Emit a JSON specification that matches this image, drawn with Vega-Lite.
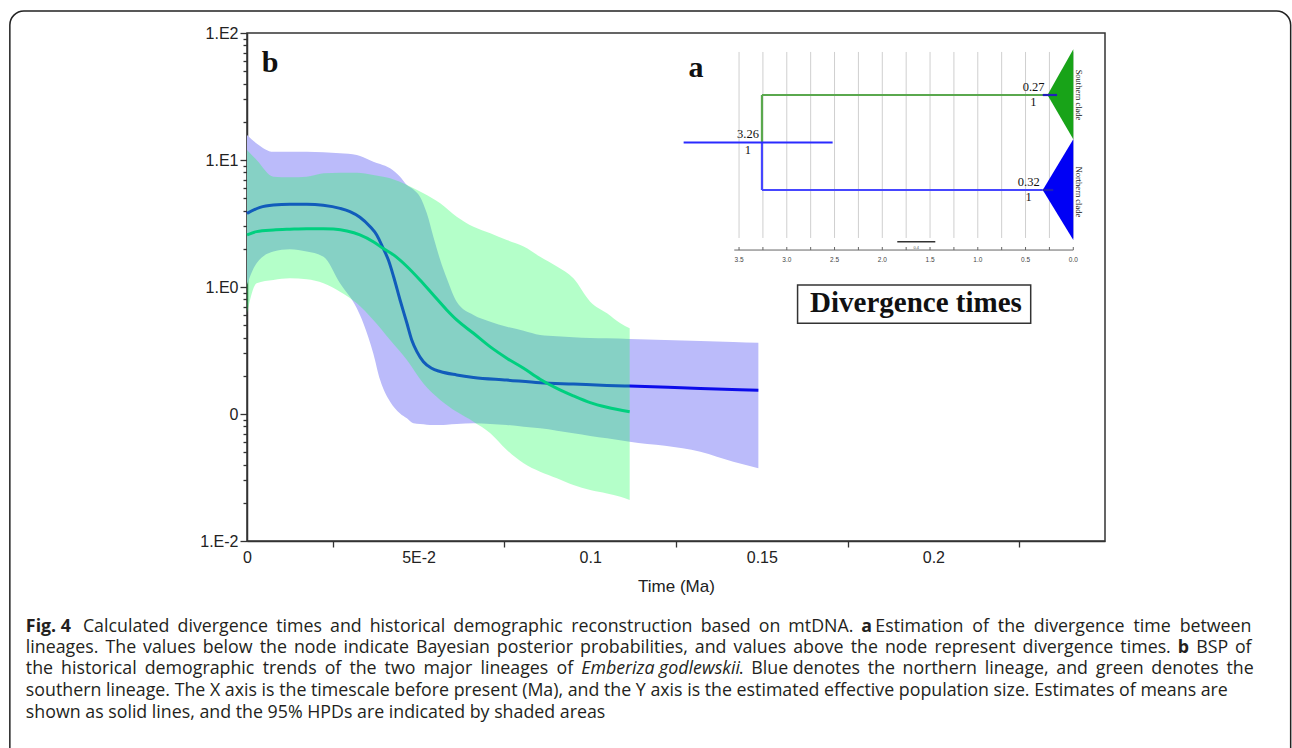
{
  "$schema": "https://vega.github.io/schema/vega-lite/v6.json",
  "width": 858,
  "height": 508,
  "autosize": {"type": "none"},
  "padding": {"left": 247, "top": 33, "right": 187, "bottom": 207},
  "background": "white",
  "config": {
    "view": {"stroke": "#333333", "strokeWidth": 1.5},
    "axis": {"grid": false, "domainColor": "#333333", "domainWidth": 1.5, "tickColor": "#333333", "tickWidth": 1.3, "labelFont": "Liberation Sans", "labelFontSize": 16, "labelColor": "#222222", "titleFont": "Liberation Sans", "titleFontSize": 17, "titleFontWeight": "normal", "titleColor": "#222222", "labelFlush": false},
    "text": {"font": "Open Sans", "fontSize": 17.8, "align": "left", "baseline": "middle", "color": "#231f20"}
  },
  "datasets": {
    "north_hpd": [
      {"t": 0, "lower": 1.04, "upper": 15.7},
      {"t": 0.0028, "lower": 1.54, "upper": 13.5},
      {"t": 0.0077, "lower": 1.9, "upper": 11.6},
      {"t": 0.0125, "lower": 1.98, "upper": 11.6},
      {"t": 0.0174, "lower": 1.9, "upper": 11.6},
      {"t": 0.0223, "lower": 1.73, "upper": 11.5},
      {"t": 0.0271, "lower": 1.07, "upper": 11.3},
      {"t": 0.032, "lower": 0.679, "upper": 10.95},
      {"t": 0.0339, "lower": 0.518, "upper": 10.5},
      {"t": 0.0368, "lower": 0.3, "upper": 9.7},
      {"t": 0.0388, "lower": 0.185, "upper": 9.3},
      {"t": 0.0417, "lower": 0.125, "upper": 8.6},
      {"t": 0.0446, "lower": 0.101, "upper": 7.39},
      {"t": 0.0466, "lower": 0.0924, "upper": 6.36},
      {"t": 0.0485, "lower": 0.0844, "upper": 5.87},
      {"t": 0.0504, "lower": 0.0834, "upper": 5.14},
      {"t": 0.0524, "lower": 0.0824, "upper": 3.8},
      {"t": 0.0543, "lower": 0.0819, "upper": 2.49},
      {"t": 0.0563, "lower": 0.0819, "upper": 1.63},
      {"t": 0.0582, "lower": 0.0824, "upper": 1.17},
      {"t": 0.0611, "lower": 0.0834, "upper": 0.766},
      {"t": 0.066, "lower": 0.0844, "upper": 0.602},
      {"t": 0.0709, "lower": 0.0834, "upper": 0.533},
      {"t": 0.0757, "lower": 0.0819, "upper": 0.487},
      {"t": 0.0806, "lower": 0.0795, "upper": 0.453},
      {"t": 0.0854, "lower": 0.0771, "upper": 0.419},
      {"t": 0.0903, "lower": 0.0739, "upper": 0.409},
      {"t": 0.0951, "lower": 0.0704, "upper": 0.402},
      {"t": 0.1, "lower": 0.0671, "upper": 0.397},
      {"t": 0.1049, "lower": 0.0643, "upper": 0.394},
      {"t": 0.1115, "lower": 0.0606, "upper": 0.39},
      {"t": 0.1321, "lower": 0.0505, "upper": 0.376},
      {"t": 0.1417, "lower": 0.0421, "upper": 0.369},
      {"t": 0.149, "lower": 0.0374, "upper": 0.364}
    ],
    "north_mean": [
      {"t": 0, "ne": 3.8},
      {"t": 0.0038, "ne": 4.24},
      {"t": 0.0077, "ne": 4.42},
      {"t": 0.0125, "ne": 4.48},
      {"t": 0.0174, "ne": 4.48},
      {"t": 0.0222, "ne": 4.4},
      {"t": 0.0271, "ne": 4.16},
      {"t": 0.03, "ne": 3.92},
      {"t": 0.0329, "ne": 3.54},
      {"t": 0.0359, "ne": 2.98},
      {"t": 0.0378, "ne": 2.57},
      {"t": 0.0397, "ne": 2.01},
      {"t": 0.0412, "ne": 1.63},
      {"t": 0.0427, "ne": 1.21},
      {"t": 0.0446, "ne": 0.79},
      {"t": 0.0466, "ne": 0.518},
      {"t": 0.048, "ne": 0.383},
      {"t": 0.0495, "ne": 0.31},
      {"t": 0.0514, "ne": 0.258},
      {"t": 0.0538, "ne": 0.229},
      {"t": 0.0563, "ne": 0.216},
      {"t": 0.0611, "ne": 0.203},
      {"t": 0.066, "ne": 0.194},
      {"t": 0.0757, "ne": 0.185},
      {"t": 0.0854, "ne": 0.176},
      {"t": 0.0951, "ne": 0.172},
      {"t": 0.1049, "ne": 0.168},
      {"t": 0.1115, "ne": 0.166},
      {"t": 0.1321, "ne": 0.159},
      {"t": 0.149, "ne": 0.154}
    ],
    "south_hpd": [
      {"t": 0, "lower": 0.621, "upper": 12.0},
      {"t": 0.0028, "lower": 1.07, "upper": 10.0},
      {"t": 0.0077, "lower": 1.135, "upper": 7.39},
      {"t": 0.0125, "lower": 1.17, "upper": 7.31},
      {"t": 0.0174, "lower": 1.15, "upper": 7.39},
      {"t": 0.0223, "lower": 1.07, "upper": 7.85},
      {"t": 0.0271, "lower": 0.919, "upper": 7.95},
      {"t": 0.032, "lower": 0.744, "upper": 7.95},
      {"t": 0.0368, "lower": 0.55, "upper": 7.62},
      {"t": 0.0417, "lower": 0.383, "upper": 7.17},
      {"t": 0.0466, "lower": 0.266, "upper": 6.36},
      {"t": 0.0514, "lower": 0.174, "upper": 5.47},
      {"t": 0.0563, "lower": 0.129, "upper": 4.56},
      {"t": 0.0611, "lower": 0.104, "upper": 3.58},
      {"t": 0.066, "lower": 0.087, "upper": 2.98},
      {"t": 0.0709, "lower": 0.0705, "upper": 2.65},
      {"t": 0.0757, "lower": 0.0521, "upper": 2.34},
      {"t": 0.0806, "lower": 0.0409, "upper": 2.08},
      {"t": 0.0854, "lower": 0.0351, "upper": 1.73},
      {"t": 0.0903, "lower": 0.0312, "upper": 1.45},
      {"t": 0.0951, "lower": 0.0276, "upper": 1.17},
      {"t": 0.1, "lower": 0.0252, "upper": 0.767},
      {"t": 0.1049, "lower": 0.0237, "upper": 0.621},
      {"t": 0.1088, "lower": 0.0223, "upper": 0.518},
      {"t": 0.1115, "lower": 0.021, "upper": 0.473}
    ],
    "south_mean": [
      {"t": 0, "ne": 2.57},
      {"t": 0.0028, "ne": 2.73},
      {"t": 0.0077, "ne": 2.81},
      {"t": 0.0125, "ne": 2.85},
      {"t": 0.0174, "ne": 2.88},
      {"t": 0.0222, "ne": 2.88},
      {"t": 0.0252, "ne": 2.86},
      {"t": 0.0291, "ne": 2.76},
      {"t": 0.0329, "ne": 2.57},
      {"t": 0.0368, "ne": 2.27},
      {"t": 0.0397, "ne": 2.01},
      {"t": 0.0427, "ne": 1.79},
      {"t": 0.0466, "ne": 1.45},
      {"t": 0.0504, "ne": 1.135},
      {"t": 0.0543, "ne": 0.865},
      {"t": 0.0582, "ne": 0.659},
      {"t": 0.0611, "ne": 0.55},
      {"t": 0.066, "ne": 0.432},
      {"t": 0.0708, "ne": 0.339},
      {"t": 0.0757, "ne": 0.275},
      {"t": 0.0806, "ne": 0.229},
      {"t": 0.0854, "ne": 0.188},
      {"t": 0.0903, "ne": 0.159},
      {"t": 0.0951, "ne": 0.139},
      {"t": 0.1, "ne": 0.123},
      {"t": 0.1049, "ne": 0.113},
      {"t": 0.1115, "ne": 0.104}
    ],
    "inset_grid": [
      {"age": 0}, {"age": 0.25}, {"age": 0.5}, {"age": 0.75}, {"age": 1.0}, {"age": 1.25}, {"age": 1.5}, {"age": 1.75},
      {"age": 2.0}, {"age": 2.25}, {"age": 2.5}, {"age": 2.75}, {"age": 3.0}, {"age": 3.25}, {"age": 3.5}
    ],
    "inset_labels": [
      {"age": 3.5, "label": "3.5"}, {"age": 3.0, "label": "3.0"}, {"age": 2.5, "label": "2.5"}, {"age": 2.0, "label": "2.0"},
      {"age": 1.5, "label": "1.5"}, {"age": 1.0, "label": "1.0"}, {"age": 0.5, "label": "0.5"}, {"age": 0.0, "label": "0.0"}
    ],
    "branches": [
      {"part": "southern", "a1": 3.26, "a2": 0.27, "r1": 1, "r2": 1},
      {"part": "southern", "a1": 3.26, "a2": 3.26, "r1": 1, "r2": 1.5},
      {"part": "northern", "a1": 3.26, "a2": 3.26, "r1": 1.5, "r2": 2},
      {"part": "northern", "a1": 3.26, "a2": 0.32, "r1": 2, "r2": 2},
      {"part": "root HPD", "a1": 4.08, "a2": 2.52, "r1": 1.5, "r2": 1.5},
      {"part": "node HPD", "a1": 0.32, "a2": 0.17, "r1": 1, "r2": 1},
      {"part": "node HPD", "a1": 0.32, "a2": 0.21, "r1": 2, "r2": 2}
    ],
    "tips": [
      {"clade": "southern tip", "age": 0.27, "top": 1.0, "bottom": 1.0},
      {"clade": "southern tip", "age": 0.0, "top": 0.519, "bottom": 1.467},
      {"clade": "northern tip", "age": 0.32, "top": 2.0, "bottom": 2.0},
      {"clade": "northern tip", "age": 0.0, "top": 1.467, "bottom": 2.526}
    ],
    "nodes": [
      {"age": 0.27, "row": 1, "height": "0.27", "post": "1"},
      {"age": 3.26, "row": 1.5, "height": "3.26", "post": "1"},
      {"age": 0.32, "row": 2, "height": "0.32", "post": "1"}
    ],
    "clades": [
      {"name": "Southern clade", "row": 1.0},
      {"name": "Northern clade", "row": 2.02}
    ]
  },
  "layer": [
    {
      "layer": [
        {
          "data": {"values": [{}]},
          "mark": {"type": "rect", "filled": false, "color": "#222222", "strokeWidth": 1.5, "cornerRadius": 14},
          "encoding": {
            "x": {"datum": -0.0691, "scale": {"domain": [0, 0.25], "nice": false, "zero": false}, "axis": null},
            "x2": {"datum": 0.3041},
            "y": {"datum": 149, "scale": {"type": "log", "domain": [0.01, 100], "nice": false}, "axis": null},
            "y2": {"datum": 0.00015}
          }
        },
        {
          "data": {"name": "north_hpd"},
          "mark": {"type": "area", "color": "#bbbbfa", "opacity": 1, "interpolate": "monotone"},
          "encoding": {
            "x": {"field": "t", "type": "quantitative", "scale": {"domain": [0, 0.25], "nice": false, "zero": false},
              "axis": {"orient": "bottom", "values": [0, 0.05, 0.1, 0.15, 0.2], "labelExpr": "datum.value == 0.05 ? '5E-2' : format(datum.value, '~g')", "ticks": false, "labelPadding": 8, "title": "Time (Ma)", "titlePadding": 13}},
            "y": {"field": "lower", "type": "quantitative", "scale": {"type": "log", "domain": [0.01, 100], "nice": false},
              "axis": {"orient": "left", "values": [0.01, 0.1, 1, 10, 100], "labelExpr": "datum.value >= 99 ? '1.E2' : datum.value >= 9 ? '1.E1' : datum.value >= 0.9 ? '1.E0' : datum.value >= 0.09 ? '0' : '1.E-2'", "tickSize": 7, "labelPadding": 2, "title": null}},
            "y2": {"field": "upper"}
          }
        },
        {
          "data": {"name": "north_mean"},
          "mark": {"type": "line", "color": "#0c0cea", "strokeWidth": 3, "interpolate": "monotone"},
          "encoding": {
            "x": {"field": "t", "type": "quantitative", "axis": null},
            "y": {"field": "ne", "type": "quantitative", "axis": null}
          }
        },
        {
          "data": {"name": "south_hpd"},
          "mark": {"type": "area", "color": "#1aff5a", "opacity": 0.33, "interpolate": "monotone"},
          "encoding": {
            "x": {"field": "t", "type": "quantitative",
              "axis": {"orient": "bottom", "values": [0.025, 0.075, 0.125, 0.175, 0.225], "labels": false, "tickSize": 6, "domain": false, "title": null}},
            "y": {"field": "lower", "type": "quantitative",
              "axis": {"orient": "left", "values": [0.02, 0.03, 0.04, 0.05, 0.06, 0.07, 0.08, 0.09, 0.2, 0.3, 0.4, 0.5, 0.6, 0.7, 0.8, 0.9, 2, 3, 4, 5, 6, 7, 8, 9, 20, 30, 40, 50, 60, 70, 80, 90], "labels": false, "tickSize": 4, "domain": false, "title": null}},
            "y2": {"field": "upper"}
          }
        },
        {
          "data": {"name": "south_mean"},
          "mark": {"type": "line", "color": "#00cf7f", "strokeWidth": 3, "interpolate": "monotone"},
          "encoding": {
            "x": {"field": "t", "type": "quantitative", "axis": null},
            "y": {"field": "ne", "type": "quantitative", "axis": null}
          }
        },
        {
          "data": {"values": [{}]},
          "mark": {"type": "text", "text": "b", "font": "Liberation Serif", "fontWeight": "bold", "fontSize": 30, "align": "center", "baseline": "alphabetic", "color": "#111111"},
          "encoding": {"x": {"datum": 0.0067, "axis": null}, "y": {"datum": 49.3, "axis": null}}
        },
        {
          "data": {"values": [{}]},
          "encoding": {"y": {"datum": 0.002122, "axis": null}},
          "layer": [
            {"mark": {"type": "text", "text": "Fig. 4", "fontWeight": "bold"}, "encoding": {"x": {"datum": -0.064431, "axis": null}}},
            {"mark": {"type": "text", "text": "Calculated"}, "encoding": {"x": {"datum": -0.047813, "axis": null}}},
            {"mark": {"type": "text", "text": "divergence"}, "encoding": {"x": {"datum": -0.020239, "axis": null}}},
            {"mark": {"type": "text", "text": "times"}, "encoding": {"x": {"datum": 0.008525, "axis": null}}},
            {"mark": {"type": "text", "text": "and"}, "encoding": {"x": {"datum": 0.02419, "axis": null}}},
            {"mark": {"type": "text", "text": "historical"}, "encoding": {"x": {"datum": 0.035749, "axis": null}}},
            {"mark": {"type": "text", "text": "demographic"}, "encoding": {"x": {"datum": 0.060102, "axis": null}}},
            {"mark": {"type": "text", "text": "reconstruction"}, "encoding": {"x": {"datum": 0.094469, "axis": null}}},
            {"mark": {"type": "text", "text": "based"}, "encoding": {"x": {"datum": 0.132181, "axis": null}}},
            {"mark": {"type": "text", "text": "on"}, "encoding": {"x": {"datum": 0.149122, "axis": null}}},
            {"mark": {"type": "text", "text": "mtDNA."}, "encoding": {"x": {"datum": 0.157743, "axis": null}}},
            {"mark": {"type": "text", "text": "a", "fontWeight": "bold"}, "encoding": {"x": {"datum": 0.179009, "axis": null}}},
            {"mark": {"type": "text", "text": "Estimation"}, "encoding": {"x": {"datum": 0.18309, "axis": null}}},
            {"mark": {"type": "text", "text": "of"}, "encoding": {"x": {"datum": 0.211332, "axis": null}}},
            {"mark": {"type": "text", "text": "the"}, "encoding": {"x": {"datum": 0.218773, "axis": null}}},
            {"mark": {"type": "text", "text": "divergence"}, "encoding": {"x": {"datum": 0.229271, "axis": null}}},
            {"mark": {"type": "text", "text": "time"}, "encoding": {"x": {"datum": 0.258294, "axis": null}}},
            {"mark": {"type": "text", "text": "between"}, "encoding": {"x": {"datum": 0.271746, "axis": null}}}
          ]
        },
        {
          "data": {"values": [{}]},
          "encoding": {"y": {"datum": 0.0014371, "axis": null}},
          "layer": [
            {"mark": {"type": "text", "text": "lineages."}, "encoding": {"x": {"datum": -0.064431, "axis": null}}},
            {"mark": {"type": "text", "text": "The"}, "encoding": {"x": {"datum": -0.041242, "axis": null}}},
            {"mark": {"type": "text", "text": "values"}, "encoding": {"x": {"datum": -0.030294, "axis": null}}},
            {"mark": {"type": "text", "text": "below"}, "encoding": {"x": {"datum": -0.012895, "axis": null}}},
            {"mark": {"type": "text", "text": "the"}, "encoding": {"x": {"datum": 0.003703, "axis": null}}},
            {"mark": {"type": "text", "text": "node"}, "encoding": {"x": {"datum": 0.013665, "axis": null}}},
            {"mark": {"type": "text", "text": "indicate"}, "encoding": {"x": {"datum": 0.028105, "axis": null}}},
            {"mark": {"type": "text", "text": "Bayesian"}, "encoding": {"x": {"datum": 0.049239, "axis": null}}},
            {"mark": {"type": "text", "text": "posterior"}, "encoding": {"x": {"datum": 0.072793, "axis": null}}},
            {"mark": {"type": "text", "text": "probabilities,"}, "encoding": {"x": {"datum": 0.097035, "axis": null}}},
            {"mark": {"type": "text", "text": "and"}, "encoding": {"x": {"datum": 0.130475, "axis": null}}},
            {"mark": {"type": "text", "text": "values"}, "encoding": {"x": {"datum": 0.141761, "axis": null}}},
            {"mark": {"type": "text", "text": "above"}, "encoding": {"x": {"datum": 0.15916, "axis": null}}},
            {"mark": {"type": "text", "text": "the"}, "encoding": {"x": {"datum": 0.175901, "axis": null}}},
            {"mark": {"type": "text", "text": "node"}, "encoding": {"x": {"datum": 0.185863, "axis": null}}},
            {"mark": {"type": "text", "text": "represent"}, "encoding": {"x": {"datum": 0.200303, "axis": null}}},
            {"mark": {"type": "text", "text": "divergence"}, "encoding": {"x": {"datum": 0.225988, "axis": null}}},
            {"mark": {"type": "text", "text": "times."}, "encoding": {"x": {"datum": 0.254475, "axis": null}}},
            {"mark": {"type": "text", "text": "b", "fontWeight": "bold"}, "encoding": {"x": {"datum": 0.271204, "axis": null}}},
            {"mark": {"type": "text", "text": "BSP"}, "encoding": {"x": {"datum": 0.27656, "axis": null}}},
            {"mark": {"type": "text", "text": "of"}, "encoding": {"x": {"datum": 0.287851, "axis": null}}}
          ]
        },
        {
          "data": {"values": [{}]},
          "encoding": {"y": {"datum": 0.00097318, "axis": null}},
          "layer": [
            {"mark": {"type": "text", "text": "the"}, "encoding": {"x": {"datum": -0.064431, "axis": null}}},
            {"mark": {"type": "text", "text": "historical"}, "encoding": {"x": {"datum": -0.054172, "axis": null}}},
            {"mark": {"type": "text", "text": "demographic"}, "encoding": {"x": {"datum": -0.029799, "axis": null}}},
            {"mark": {"type": "text", "text": "trends"}, "encoding": {"x": {"datum": 0.004592, "axis": null}}},
            {"mark": {"type": "text", "text": "of"}, "encoding": {"x": {"datum": 0.02263, "axis": null}}},
            {"mark": {"type": "text", "text": "the"}, "encoding": {"x": {"datum": 0.029831, "axis": null}}},
            {"mark": {"type": "text", "text": "two"}, "encoding": {"x": {"datum": 0.04009, "axis": null}}},
            {"mark": {"type": "text", "text": "major"}, "encoding": {"x": {"datum": 0.05142, "axis": null}}},
            {"mark": {"type": "text", "text": "lineages"}, "encoding": {"x": {"datum": 0.068026, "axis": null}}},
            {"mark": {"type": "text", "text": "of"}, "encoding": {"x": {"datum": 0.090175, "axis": null}}},
            {"mark": {"type": "text", "text": "Emberiza godlewskii", "fontStyle": "italic"}, "encoding": {"x": {"datum": 0.097376, "axis": null}}},
            {"mark": {"type": "text", "text": "."}, "encoding": {"x": {"datum": 0.143294, "axis": null}}},
            {"mark": {"type": "text", "text": "Blue"}, "encoding": {"x": {"datum": 0.146939, "axis": null}}},
            {"mark": {"type": "text", "text": "denotes"}, "encoding": {"x": {"datum": 0.158985, "axis": null}}},
            {"mark": {"type": "text", "text": "the"}, "encoding": {"x": {"datum": 0.180854, "axis": null}}},
            {"mark": {"type": "text", "text": "northern"}, "encoding": {"x": {"datum": 0.191026, "axis": null}}},
            {"mark": {"type": "text", "text": "lineage,"}, "encoding": {"x": {"datum": 0.214945, "axis": null}}},
            {"mark": {"type": "text", "text": "and"}, "encoding": {"x": {"datum": 0.235808, "axis": null}}},
            {"mark": {"type": "text", "text": "green"}, "encoding": {"x": {"datum": 0.247303, "axis": null}}},
            {"mark": {"type": "text", "text": "denotes"}, "encoding": {"x": {"datum": 0.26351, "axis": null}}},
            {"mark": {"type": "text", "text": "the"}, "encoding": {"x": {"datum": 0.285379, "axis": null}}}
          ]
        },
        {
          "data": {"values": [{}]},
          "mark": {"type": "text", "text": "southern lineage. The X axis is the timescale before present (Ma), and the Y axis is the estimated effective population size. Estimates of means are"},
          "encoding": {"x": {"datum": -0.064431, "axis": null}, "y": {"datum": 0.000659, "axis": null}}
        },
        {
          "data": {"values": [{}]},
          "mark": {"type": "text", "text": "shown as solid lines, and the 95% HPDs are indicated by shaded areas"},
          "encoding": {"x": {"datum": -0.064431, "axis": null}, "y": {"datum": 0.00044623, "axis": null}}
        }
      ],
      "resolve": {"axis": {"x": "independent", "y": "independent"}}
    },
    {
      "layer": [
        {
          "data": {"name": "inset_grid"},
          "mark": {"type": "rule", "color": "#cfcfcf", "strokeWidth": 1},
          "encoding": {
            "x": {"field": "age", "type": "quantitative", "scale": {"domain": [-0.332, 8.652], "reverse": true, "nice": false, "zero": false}, "axis": null},
            "y": {"datum": 0.547, "scale": {"domain": [0.34737, 5.6947], "reverse": true, "nice": false, "zero": false}, "axis": null},
            "y2": {"datum": 2.505}
          }
        },
        {
          "data": {"values": [{}]},
          "mark": {"type": "rule", "color": "#666666", "strokeWidth": 1},
          "encoding": {"x": {"datum": 3.55, "axis": null}, "x2": {"datum": 0.0}, "y": {"datum": 2.632, "axis": null}}
        },
        {
          "data": {"name": "inset_grid"},
          "mark": {"type": "rule", "color": "#666666", "strokeWidth": 1},
          "encoding": {"x": {"field": "age", "type": "quantitative", "axis": null}, "y": {"datum": 2.6, "axis": null}, "y2": {"datum": 2.632}}
        },
        {
          "data": {"name": "inset_labels"},
          "mark": {"type": "text", "font": "Liberation Sans", "fontSize": 6.5, "color": "#444444", "align": "center", "baseline": "middle"},
          "encoding": {"x": {"field": "age", "type": "quantitative", "axis": null}, "y": {"datum": 2.737, "axis": null}, "text": {"field": "label"}}
        },
        {
          "data": {"values": [{}]},
          "mark": {"type": "rule", "color": "#333333", "strokeWidth": 1.5},
          "encoding": {"x": {"datum": 1.843, "axis": null}, "x2": {"datum": 1.445}, "y": {"datum": 2.544, "axis": null}}
        },
        {
          "data": {"values": [{}]},
          "mark": {"type": "text", "text": "0.4", "font": "Liberation Sans", "fontSize": 4, "color": "#555555", "align": "center", "baseline": "middle"},
          "encoding": {"x": {"datum": 1.644, "axis": null}, "y": {"datum": 2.61, "axis": null}}
        },
        {
          "data": {"name": "tips"},
          "mark": {"type": "area", "opacity": 1},
          "encoding": {
            "x": {"field": "age", "type": "quantitative", "axis": null},
            "y": {"field": "top", "type": "quantitative", "axis": null},
            "y2": {"field": "bottom"},
            "color": {"field": "clade", "type": "nominal", "legend": null,
              "scale": {"domain": ["southern", "northern", "root HPD", "node HPD", "southern tip", "northern tip"], "range": ["#5aa84e", "#4646ff", "#2a2aff", "#2020b8", "#18a318", "#0000f5"]}}
          }
        },
        {
          "data": {"name": "branches"},
          "mark": {"type": "rule", "strokeWidth": 2.2},
          "encoding": {
            "x": {"field": "a1", "type": "quantitative", "axis": null},
            "x2": {"field": "a2"},
            "y": {"field": "r1", "type": "quantitative", "axis": null},
            "y2": {"field": "r2"},
            "color": {"field": "part", "type": "nominal", "legend": null}
          }
        },
        {
          "data": {"name": "nodes"},
          "mark": {"type": "text", "font": "Liberation Serif", "fontSize": 12.5, "color": "#111111", "align": "right", "baseline": "bottom", "dx": -3, "dy": -1.5},
          "encoding": {"x": {"field": "age", "type": "quantitative", "axis": null}, "y": {"field": "row", "type": "quantitative", "axis": null}, "text": {"field": "height"}}
        },
        {
          "data": {"name": "nodes"},
          "mark": {"type": "text", "font": "Liberation Serif", "fontSize": 12.5, "color": "#111111", "align": "right", "baseline": "top", "dx": -11, "dy": 1},
          "encoding": {"x": {"field": "age", "type": "quantitative", "axis": null}, "y": {"field": "row", "type": "quantitative", "axis": null}, "text": {"field": "post"}}
        },
        {
          "data": {"name": "clades"},
          "mark": {"type": "text", "font": "Liberation Serif", "fontSize": 8.5, "color": "#222222", "align": "center", "baseline": "middle", "angle": 90},
          "encoding": {"x": {"datum": -0.055, "axis": null}, "y": {"field": "row", "type": "quantitative", "axis": null}, "text": {"field": "name"}}
        },
        {
          "data": {"values": [{}]},
          "mark": {"type": "text", "text": "a", "font": "Liberation Serif", "fontWeight": "bold", "fontSize": 30, "align": "left", "baseline": "alphabetic", "color": "#111111"},
          "encoding": {"x": {"datum": 4.028, "axis": null}, "y": {"datum": 0.807, "axis": null}}
        },
        {
          "data": {"values": [{}]},
          "mark": {"type": "rect", "fill": "white", "stroke": "#333333", "strokeWidth": 1.5},
          "encoding": {"x": {"datum": 2.887, "axis": null}, "x2": {"datum": 0.446}, "y": {"datum": 3.0, "axis": null}, "y2": {"datum": 3.403}}
        },
        {
          "data": {"values": [{}]},
          "mark": {"type": "text", "text": "Divergence times", "font": "Liberation Serif", "fontWeight": "bold", "fontSize": 29, "align": "center", "baseline": "alphabetic", "color": "#111111"},
          "encoding": {"x": {"datum": 1.647, "axis": null}, "y": {"datum": 3.281, "axis": null}}
        }
      ]
    }
  ],
  "resolve": {"scale": {"x": "independent", "y": "independent"}}
}
